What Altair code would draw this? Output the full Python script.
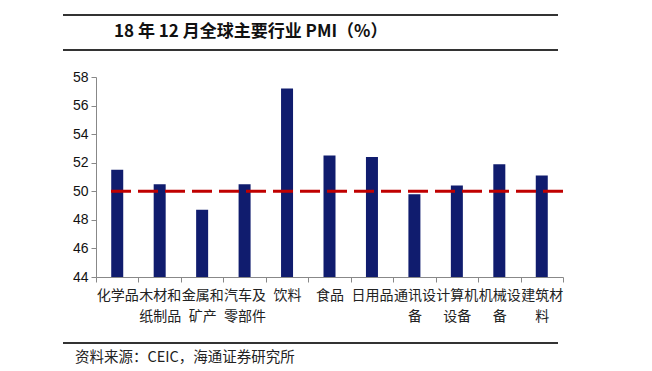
import altair as alt
import pandas as pd

categories = ["化学品", "木材和\n纸制品", "金属和\n矿产", "汽车及\n零部件", "饮料", "食品",
              "日用品", "通讯设\n备", "计算机\n设备", "机械设\n备", "建筑材\n料"]
values = [51.5, 50.5, 48.7, 50.5, 57.2, 52.5, 52.4, 49.8, 50.4, 51.9, 51.1]
threshold = [50]
y_ticks = [44, 46, 48, 50, 52, 54, 56, 58]
y_min, y_max = 44, 58
title_text = "18 年 12 月全球主要行业 PMI（%）"
source_text = "资料来源：CEIC，海通证券研究所"

df = pd.DataFrame({"cat": categories, "val": values})
ref = pd.DataFrame({"v": threshold})

W, H = 467, 200
cjk = "Noto Sans CJK SC"

yscale = alt.Scale(domain=[y_min, y_max], nice=False, zero=False)
yaxis = alt.Axis(values=y_ticks, grid=False, labelFont="Liberation Sans",
                 labelFontSize=14, labelColor="#111", tickSize=5,
                 tickColor="#888", domainColor="#888", labelPadding=3,
                 labelOverlap=False, labelFlush=False, title=None)

bars = alt.Chart(df).mark_bar(size=12, color="#101C6E").encode(
    x=alt.X("cat:N", sort=categories, title=None,
            axis=alt.Axis(labelAngle=0, labelExpr="split(datum.label, '\\n')",
                          labelFont=cjk, labelFontSize=14, labelColor="#222",
                          labelLineHeight=21, labelPadding=6,
                          tickBand="extent", tickSize=5, tickColor="#888",
                          domainColor="#888", labelLimit=80, labelOverlap=False),
            scale=alt.Scale(paddingInner=0, paddingOuter=0)),
    y=alt.Y("val:Q", title=None, scale=yscale, axis=yaxis),
    y2=alt.datum(y_min),
)

line = alt.Chart(ref).mark_rule(color="#C00000", strokeWidth=3, strokeDash=[20, 7]).encode(
    y=alt.Y("v:Q", title=None, scale=yscale, axis=yaxis),
    x=alt.value(15),
    x2=alt.value(471),
)

deco = pd.DataFrame({"d": [0]})
rule_top = alt.Chart(deco).mark_rule(color="#333", strokeWidth=2).encode(
    x=alt.value(-33), x2=alt.value(462), y=alt.value(-62))
rule_mid = alt.Chart(deco).mark_rule(color="#333", strokeWidth=2).encode(
    x=alt.value(-33), x2=alt.value(462), y=alt.value(-27))
rule_bot = alt.Chart(deco).mark_rule(color="#333", strokeWidth=2).encode(
    x=alt.value(-33), x2=alt.value(462), y=alt.value(266))
title = alt.Chart(deco).mark_text(align="left", baseline="middle", font=cjk,
                                  fontSize=17, fontWeight="bold", color="#111").encode(
    x=alt.value(18), y=alt.value(-45), text=alt.value(title_text))
source = alt.Chart(deco).mark_text(align="left", baseline="middle", font=cjk,
                                   fontSize=14.5, color="#222").encode(
    x=alt.value(-21), y=alt.value(281), text=alt.value(source_text))

chart = alt.layer(bars, line, rule_top, rule_mid, rule_bot, title, source).properties(
    width=W, height=H,
    autosize=alt.AutoSizeParams(type="none"),
    padding={"left": 88, "top": 69, "right": 81, "bottom": 94},
    background="white",
).configure_view(stroke=None)

chart.save("out.html", embed_options={"renderer": "svg", "actions": False})
